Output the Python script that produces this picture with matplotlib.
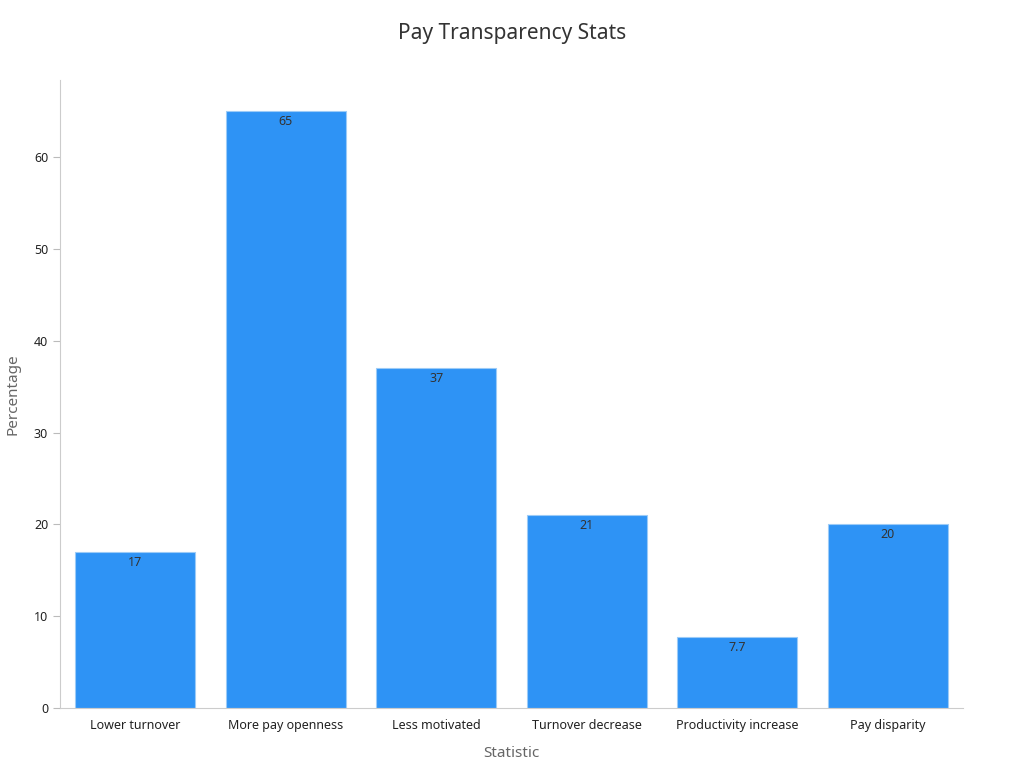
import matplotlib
matplotlib.use("Agg")
import matplotlib.pyplot as plt

plt.rcParams['font.family'] = ['Noto Sans', 'DejaVu Sans']

categories = ["Lower turnover", "More pay openness", "Less motivated", "Turnover decrease", "Productivity increase", "Pay disparity"]
values = [17, 65, 37, 21, 7.7, 20]
labels = ["17", "65", "37", "21", "7.7", "20"]

fig = plt.figure(figsize=(10.24, 7.68), dpi=100)
ax = fig.add_axes([0.0586, 0.0781, 0.8818, 0.8177])
x = range(len(categories))
bars = ax.bar(x, values, width=0.8, color="#2E93F5", edgecolor="#9CCBF7", linewidth=0.8)
for b, l in zip(bars, labels):
    ax.text(b.get_x() + b.get_width()/2, b.get_height() - 0.4, l, ha="center", va="top", fontsize=9, color="#333333")
ax.set_xlim(-0.5, 5.5)
ax.set_ylim(0, 68.4)
ax.set_xticks(list(x))
ax.set_xticklabels(categories, fontsize=9, color="#222222")
ax.set_yticks([0, 10, 20, 30, 40, 50, 60])
ax.tick_params(axis='y', labelsize=9, colors="#222222", length=5, color="#bbbbbb")
ax.tick_params(axis='x', length=0, pad=8)
for s in ["top", "right"]:
    ax.spines[s].set_visible(False)
for s in ["left", "bottom"]:
    ax.spines[s].set_color("#cccccc")
ax.set_xlabel("Statistic", fontsize=11, color="#666666", labelpad=10)
ax.set_ylabel("Percentage", fontsize=11, color="#666666", labelpad=10)
fig.suptitle("Pay Transparency Stats", y=0.97, fontsize=15, color="#333333")
fig.savefig("out.png", dpi=100)
